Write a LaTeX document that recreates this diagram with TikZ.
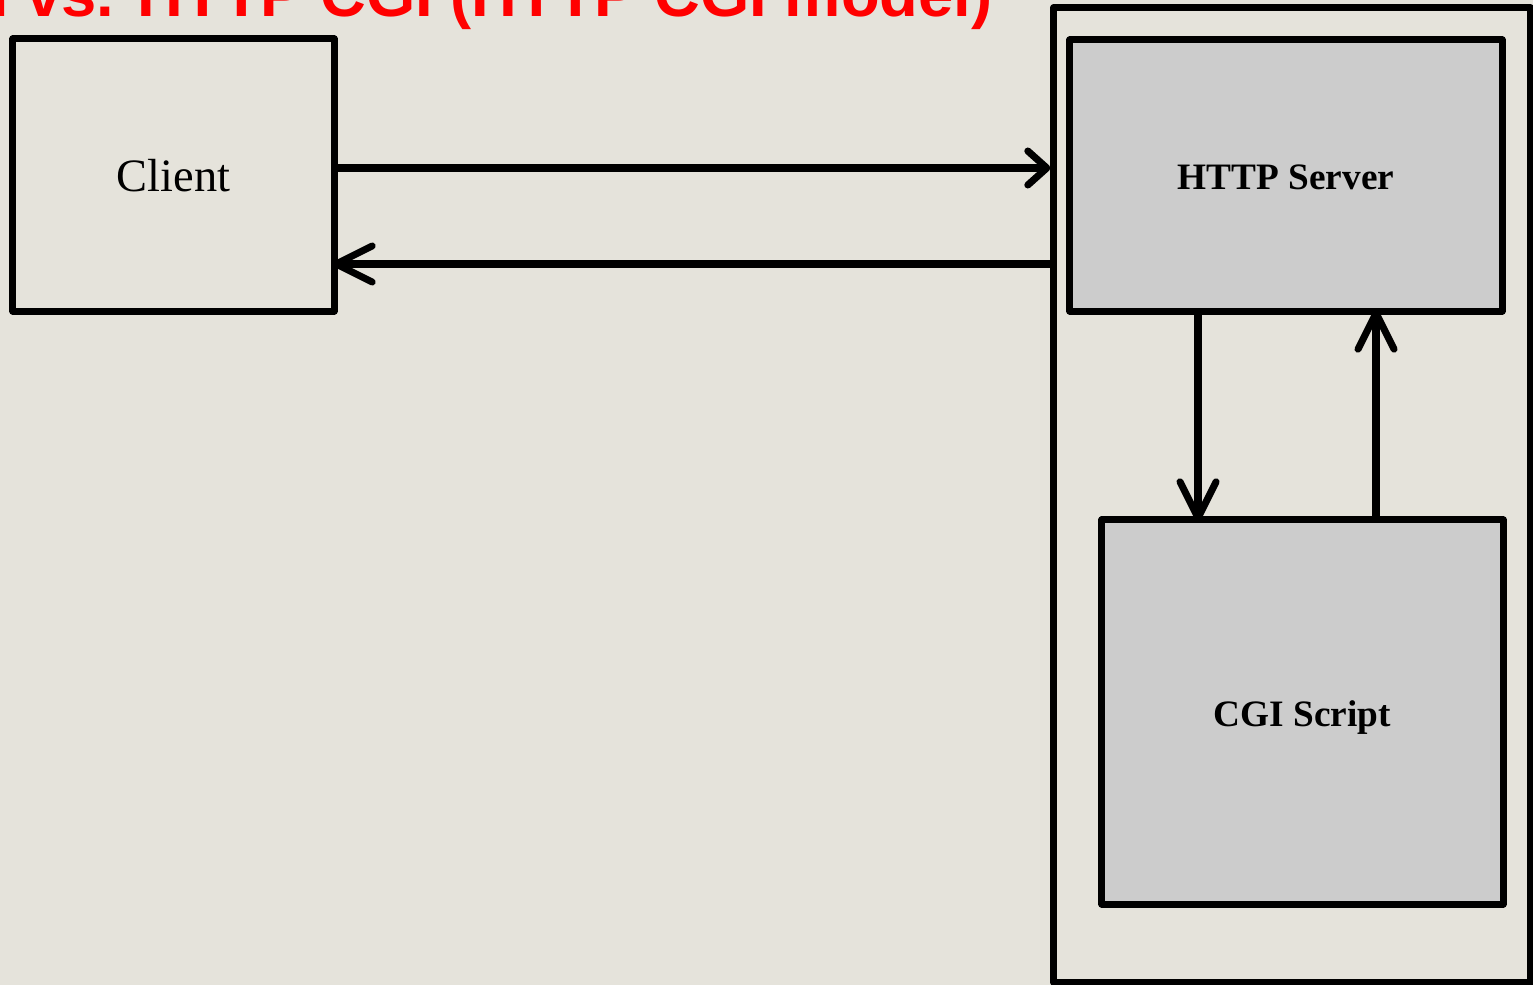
\documentclass[tikz,border=0pt]{standalone}
\usepackage{fontspec}
\setmainfont{Liberation Serif}
\newfontfamily\titlefont{Liberation Sans}
\usetikzlibrary{arrows.meta}
\definecolor{paper}{HTML}{E5E3DB}
\definecolor{boxgray}{HTML}{CCCCCC}
\definecolor{titlered}{HTML}{FF0000}
\tikzset{
  frame/.style={draw=black, line width=2pt, line join=round, inner sep=0pt, anchor=center},
  plainbox/.style={frame, fill=paper},
  graybox/.style={frame, fill=boxgray, font=\fontsize{10.6}{12}\selectfont\bfseries},
  link/.style={line width=2pt, line cap=round, shorten >=-0.05cm,
    -{Straight Barb[length=0.36cm, width=0.36cm, round]}},
  shortlink/.style={line width=2pt, line cap=round,
    -{Straight Barb[length=0.19cm, width=0.34cm, round]}}
}
\begin{document}
\begin{tikzpicture}[x=0.01cm, y=-0.01cm]
  % page area and background
  \fill[paper] (0,0) rectangle (1533,985);
  \useasboundingbox (0,0) rectangle (1533,985);

  % slide title, cut by the top edge
  \begin{scope}
    \clip (0,0) rectangle (1533,985);
    \node[anchor=base east, inner sep=0pt, text=titlered,
          font=\titlefont\bfseries\fontsize{18}{20}\selectfont]
      (title) at (993,17) {Servlet model vs. HTTP CGI (HTTP CGI model)};
  \end{scope}

  % host machine holding the server and the script
  \node[plainbox, minimum width=4.76cm, minimum height=9.74cm] (host) at (1292,495) {};

  % boxes
  \node[plainbox, minimum width=3.21cm, minimum height=2.72cm,
        text height=9.4pt, text depth=0pt,
        font=\fontsize{13.2}{15}\selectfont] (client) at (173.5,175) {Client};
  \node[graybox, minimum width=4.32cm, minimum height=2.71cm,
        text height=8.2pt, text depth=0pt] (server) at (1286,175.5) {HTTP Server};
  \node[graybox, minimum width=4.01cm, minimum height=3.84cm,
        text height=8.5pt, text depth=0pt] (cgi) at (1302.5,712) {CGI Script};

  % request and response between client and host
  \draw[shortlink] (client.east |- 0,168) -- (host.west |- 0,168);
  \draw[link] (host.west |- 0,264) -- (client.east |- 0,264);

  % server calls the script and gets its output back
  \draw[link] (server.south -| 1198,0) -- (cgi.north -| 1198,0);
  \draw[link] (cgi.north -| 1376,0) -- (server.south -| 1376,0);
\end{tikzpicture}
\end{document}
